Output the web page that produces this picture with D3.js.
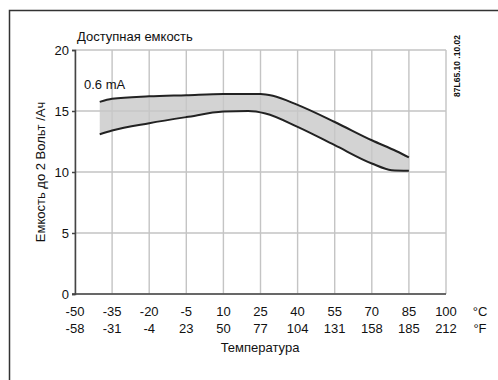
<!DOCTYPE html>
<html>
<head>
<meta charset="utf-8">
<script src="https://cdn.jsdelivr.net/npm/d3@7"></script>
<style>
  body { margin: 0; background: #fff; }
  svg text { font-family: "Liberation Sans", Arial, sans-serif; fill: #111; }
</style>
</head>
<body>
<div id="chart"></div>
<script>
// temperatures (°C) and capacity bounds
var tempC = [-40, -35, -20, -5, 10, 25, 30, 40, 55, 70, 80, 85];
var upper = [15.75, 16.0, 16.2, 16.3, 16.4, 16.4, 16.25, 15.5, 14.1, 12.6, 11.7, 11.2];
var tempL = [-40, -35, -20, -5, 10, 20, 27, 40, 55, 70, 78, 85];
var lower = [13.1, 13.4, 14.0, 14.5, 14.95, 15.0, 14.8, 13.7, 12.2, 10.7, 10.15, 10.1];

var ticksC = [-50, -35, -20, -5, 10, 25, 40, 55, 70, 85, 100];
var ticksF = ["-58", "-31", "-4", "23", "50", "77", "104", "131", "158", "185", "212"];
var ticksY = [0, 5, 10, 15, 20];

var width = 498, height = 380;

var svg = d3.select("#chart").append("svg")
  .attr("width", width)
  .attr("height", height);

// frame
svg.append("path")
  .attr("d", "M9.5,380 V10.5 H498")
  .attr("fill", "none")
  .attr("stroke", "#333")
  .attr("stroke-width", 1.5);

var x = d3.scaleLinear().domain([-50, 100]).range([75, 446]);
var y = d3.scaleLinear().domain([0, 20]).range([294, 50]);

// grid as one path
var gp = d3.path();
ticksC.forEach(function(d) {
  gp.moveTo(x(d), y(20));
  gp.lineTo(x(d), y(0));
});
ticksY.forEach(function(d) {
  gp.moveTo(x(-50), y(d));
  gp.lineTo(x(100), y(d));
});
svg.append("path")
  .attr("d", gp.toString())
  .attr("fill", "none")
  .attr("stroke", "#c4c4c4")
  .attr("stroke-width", 1.4);

// band between the curves
var upPts = tempC.map((t, i) => [x(t), y(upper[i])]);
var loPts = tempL.map((t, i) => [x(t), y(lower[i])]);
var curve = d3.line().curve(d3.curveMonotoneX);

svg.append("path")
  .attr("d", curve(upPts) + "L" + curve(loPts.slice().reverse()).slice(1) + "Z")
  .attr("fill", "#c8c8c8")
  .attr("fill-opacity", 0.8);

svg.append("path").attr("d", curve(upPts))
  .attr("fill", "none").attr("stroke", "#222").attr("stroke-width", 2);
svg.append("path").attr("d", curve(loPts))
  .attr("fill", "none").attr("stroke", "#222").attr("stroke-width", 2);

// axes
var yAxis = svg.append("g")
  .attr("transform", "translate(75,0)")
  .call(d3.axisLeft(y).tickValues(ticksY).tickSize(3).tickPadding(3));
yAxis.select(".domain").attr("stroke", "#444").attr("stroke-width", 1.5);
yAxis.selectAll(".tick line").attr("stroke", "#444").attr("stroke-width", 1.5);
yAxis.selectAll("text").attr("font-size", 13).attr("fill", "#111")
  .attr("font-family", "Liberation Sans, Arial, sans-serif");

svg.append("line")
  .attr("x1", x(-50) - 3).attr("x2", x(100))
  .attr("y1", y(0)).attr("y2", y(0))
  .attr("stroke", "#444").attr("stroke-width", 1.5);

svg.selectAll(".lc").data(ticksC).enter().append("text")
  .attr("x", d => x(d)).attr("y", 316)
  .attr("text-anchor", "middle").attr("font-size", 13)
  .text(d => d);
svg.selectAll(".lf").data(ticksF).enter().append("text")
  .attr("x", (d, i) => x(ticksC[i])).attr("y", 333)
  .attr("text-anchor", "middle").attr("font-size", 13)
  .text(d => d);
svg.append("text").attr("x", 480).attr("y", 316).attr("text-anchor", "middle")
  .attr("font-size", 13).text("°C");
svg.append("text").attr("x", 480).attr("y", 333).attr("text-anchor", "middle")
  .attr("font-size", 13).text("°F");

svg.append("text").attr("x", 260).attr("y", 352).attr("text-anchor", "middle")
  .attr("font-size", 13).text("Температура");

svg.append("text")
  .attr("transform", "translate(45,172) rotate(-90)")
  .attr("text-anchor", "middle").attr("font-size", 13)
  .text("Емкость до 2 Вольт /Ач");

svg.append("text").attr("x", 77).attr("y", 41)
  .attr("font-size", 13).text("Доступная емкость");

svg.append("text").attr("x", 84).attr("y", 89)
  .attr("font-size", 13).text("0.6 mA");

svg.append("text")
  .attr("transform", "translate(460,66) rotate(-90)")
  .attr("text-anchor", "middle").attr("font-size", 8.5).attr("font-weight", "bold")
  .text("87L65.10 .10.02");
</script>
</body>
</html>
